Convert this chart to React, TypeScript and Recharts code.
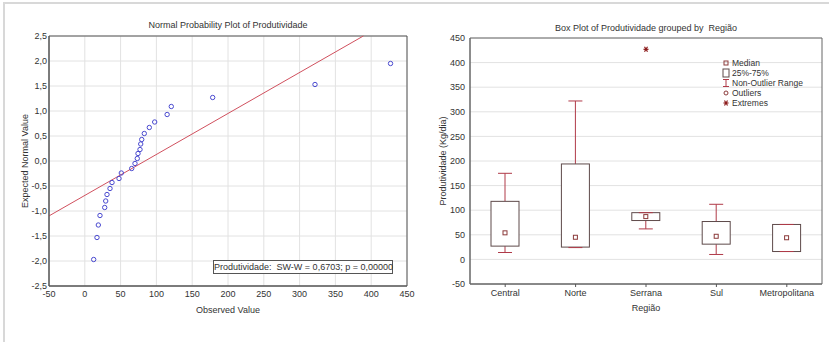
import React from "react";
import {
  ScatterChart,
  Scatter,
  ComposedChart,
  Bar,
  XAxis,
  YAxis,
  CartesianGrid,
  ReferenceLine,
  ReferenceArea,
} from "recharts";

// normal probability plot
const observed = [
  12.4, 17, 18.9, 21.2, 27.8, 29.2, 31, 35.2, 38, 47.8, 51, 65.5, 70.1, 73.3,
  74.3, 77.1, 78.1, 79.5, 83.1, 90.1, 97.6, 115, 120.8, 178.6, 321.5, 427,
];
const expected = [
  -1.97, -1.53, -1.28, -1.09, -0.93, -0.8, -0.67, -0.55, -0.43, -0.35, -0.24,
  -0.15, -0.05, 0.05, 0.15, 0.23, 0.34, 0.43, 0.55, 0.67, 0.78, 0.93, 1.09,
  1.27, 1.53, 1.95,
];
const fitMean = 84;
const fitSd = 122;
const xTicks = [-50, 0, 50, 100, 150, 200, 250, 300, 350, 400, 450];
const yTicks = [-2.5, -2, -1.5, -1, -0.5, 0, 0.5, 1, 1.5, 2, 2.5];

// box plot
const regions = ["Central", "Norte", "Serrana", "Sul", "Metropolitana"];
const whiskerLow = [14, 24, 62, 10, 16];
const q1 = [27, 25, 79, 31, 16];
const medians = [54, 45, 87, 47, 44];
const q3 = [118, 194, 95, 77, 71];
const whiskerHigh = [175, 322, 95, 112, 71];
const extremes: (number | null)[] = [null, null, 427, null, null];
const boxTicks = [-50, 0, 50, 100, 150, 200, 250, 300, 350, 400, 450];

const FONT = "'Liberation Sans', Arial, sans-serif";
const TEXT = "#333";
const GRID = "#e2e2e2";
const WHISKER = "#b03a48";
const BOX = "#5e4a4a";

const normalData = observed.map((v, i) => ({ x: v, y: expected[i] }));
const fitY0 = (xTicks[0] - fitMean) / fitSd;
const fitX1 = fitMean + yTicks[yTicks.length - 1] * fitSd;

const boxData = regions.map((name, i) => ({
  name,
  range: [whiskerLow[i], whiskerHigh[i]],
  q1: q1[i],
  med: medians[i],
  q3: q3[i],
  extreme: extremes[i],
}));

const comma = (v: number) => v.toFixed(1).replace(".", ",");
const tickStyle = { fontSize: 9, fill: TEXT, fontFamily: FONT };

const BoxShape = (props: any) => {
  const { x, y, width, height, payload } = props;
  const [lo, hi] = payload.range;
  const py = (v: number) => y + ((hi - v) / (hi - lo)) * height;
  const cx = x + width / 2;
  const cap = 7;
  return (
    <g>
      <line x1={cx} x2={cx} y1={py(hi)} y2={py(payload.q3)} stroke={WHISKER} />
      <line x1={cx} x2={cx} y1={py(payload.q1)} y2={py(lo)} stroke={WHISKER} />
      <rect
        x={x}
        y={py(payload.q3)}
        width={width}
        height={py(payload.q1) - py(payload.q3)}
        fill="#fff"
        stroke={BOX}
      />
      <line x1={cx - cap} x2={cx + cap} y1={py(hi)} y2={py(hi)} stroke={WHISKER} />
      <line x1={cx - cap} x2={cx + cap} y1={py(lo)} y2={py(lo)} stroke={WHISKER} />
      <rect x={cx - 2} y={py(payload.med) - 2} width={4} height={4} fill="#fff" stroke="#8b3a3a" />
    </g>
  );
};

const Star = (props: any) => {
  const { cx, cy } = props;
  if (!Number.isFinite(cx) || !Number.isFinite(cy)) return <g />;
  return (
    <g stroke="#8b1a1a" strokeWidth={1.2}>
      <line x1={cx - 2.5} x2={cx + 2.5} y1={cy} y2={cy} />
      <line x1={cx - 1.5} x2={cx + 1.5} y1={cy - 2.5} y2={cy + 2.5} />
      <line x1={cx + 1.5} x2={cx - 1.5} y1={cy - 2.5} y2={cy + 2.5} />
    </g>
  );
};

const abs = (s: React.CSSProperties): React.CSSProperties => ({
  position: "absolute",
  fontFamily: FONT,
  fontSize: 9,
  color: TEXT,
  whiteSpace: "nowrap",
  ...s,
});

const legendRow = (icon: React.ReactNode, label: string, top: number) => (
  <div
    style={abs({
      left: 722,
      top,
      height: 10,
      lineHeight: "10px",
      display: "flex",
      alignItems: "center",
      fontSize: 8.5,
    })}
  >
    <svg width={8} height={10} style={{ marginRight: 2 }}>
      {icon}
    </svg>
    <span style={{ lineHeight: "10px" }}>{label}</span>
  </div>
);

export default function App() {
  return (
    <div
      style={{
        position: "absolute",
        left: 0,
        top: 0,
        width: 829,
        height: 342,
        background: "#fff",
        overflow: "hidden",
      }}
    >
      <div style={{ position: "absolute", left: 3, top: 2, width: 826, height: 2, background: "#d8d8d8" }} />
      <div style={{ position: "absolute", left: 3, top: 2, width: 2, height: 340, background: "#d8d8d8" }} />

      {/* left: normal probability plot */}
      <div style={{ position: "absolute", left: 0, top: 0 }}>
        <ScatterChart width={415} height={342} margin={{ top: 36, right: 8, bottom: 26, left: 19 }}>
          <CartesianGrid stroke={GRID} />
          <XAxis
            type="number"
            dataKey="x"
            domain={[-50, 450]}
            ticks={xTicks}
            height={30}
            tick={tickStyle}
            tickLine={false}
            tickSize={0}
            tickMargin={5}
            axisLine={{ stroke: "#555" }}
            allowDataOverflow
          />
          <YAxis
            type="number"
            dataKey="y"
            domain={[-2.5, 2.5]}
            ticks={yTicks}
            width={30}
            tick={tickStyle}
            tickLine={false}
            tickSize={0}
            tickMargin={2}
            tickFormatter={comma}
            axisLine={{ stroke: "#555" }}
            allowDataOverflow
          />
          <ReferenceArea x1={-50} x2={450} y1={-2.5} y2={2.5} fill="none" stroke="#555" />
          <ReferenceLine
            segment={[
              { x: xTicks[0], y: fitY0 },
              { x: fitX1, y: yTicks[yTicks.length - 1] },
            ]}
            stroke="#d0505e"
            strokeWidth={1}
          />
          <Scatter
            data={normalData}
            isAnimationActive={false}
            shape={(p: any) => (
              <circle cx={p.cx} cy={p.cy} r={2.2} fill="none" stroke="#4a4ad0" strokeWidth={1} />
            )}
          />
        </ScatterChart>
      </div>
      <div style={abs({ left: 49, width: 358, top: 20, textAlign: "center" })}>
        Normal Probability Plot of Produtividade
      </div>
      <div style={abs({ left: 49, width: 358, top: 305, textAlign: "center" })}>Observed Value</div>
      <div
        style={abs({
          left: 25,
          top: 161,
          transform: "translate(-50%, -50%) rotate(-90deg)",
        })}
      >
        Expected Normal Value
      </div>
      <div
        style={abs({
          left: 213,
          top: 260,
          width: 178,
          height: 12,
          lineHeight: "12px",
          border: "1px solid #555",
          background: "#fff",
          textAlign: "center",
        })}
      >
        Produtividade:&nbsp; SW-W = 0,6703; p = 0,00000
      </div>

      {/* right: box plot */}
      <div style={{ position: "absolute", left: 415, top: 0 }}>
        <ComposedChart
          width={414}
          height={342}
          data={boxData}
          margin={{ top: 38, right: 7, bottom: 28, left: 25 }}
        >
          <CartesianGrid stroke={GRID} vertical={false} />
          <XAxis
            dataKey="name"
            height={30}
            tick={tickStyle}
            tickLine={{ stroke: "#555" }}
            tickSize={3}
            tickMargin={3}
            axisLine={{ stroke: "#666" }}
          />
          <YAxis
            type="number"
            domain={[-50, 450]}
            ticks={boxTicks}
            width={30}
            tick={tickStyle}
            tickLine={false}
            tickSize={0}
            tickMargin={5}
            axisLine={{ stroke: "#666" }}
            allowDataOverflow
          />
          <ReferenceArea y1={-50} y2={450} fill="none" stroke="#666" />
          <Bar dataKey="range" barSize={28} isAnimationActive={false} shape={<BoxShape />} />
          <Scatter dataKey="extreme" isAnimationActive={false} shape={<Star />} />
        </ComposedChart>
      </div>
      <div style={abs({ left: 470, width: 352, top: 23, textAlign: "center" })}>
        Box Plot of Produtividade grouped by&nbsp; Região
      </div>
      <div style={abs({ left: 470, width: 352, top: 303, textAlign: "center" })}>Região</div>
      <div
        style={abs({
          left: 443,
          top: 161,
          transform: "translate(-50%, -50%) rotate(-90deg)",
        })}
      >
        Produtividade (Kg/dia)
      </div>
      {legendRow(<rect x={2} y={3} width={4} height={4} fill="none" stroke="#8b3a3a" />, "Median", 58)}
      {legendRow(<rect x={1} y={1} width={6} height={8} fill="none" stroke={BOX} />, "25%-75%", 68)}
      {legendRow(
        <g stroke={WHISKER}>
          <line x1={4} x2={4} y1={1.5} y2={8.5} />
          <line x1={1} x2={7} y1={1.5} y2={1.5} />
          <line x1={1} x2={7} y1={8.5} y2={8.5} />
        </g>,
        "Non-Outlier Range",
        78
      )}
      {legendRow(<circle cx={4} cy={5} r={2} fill="none" stroke="#8b3a3a" />, "Outliers", 88)}
      {legendRow(<Star cx={4} cy={5} />, "Extremes", 98)}
    </div>
  );
}
